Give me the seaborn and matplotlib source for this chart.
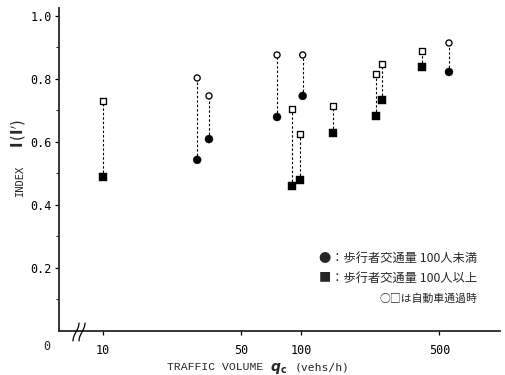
import numpy as np
import pandas as pd
import matplotlib
matplotlib.use("Agg")
import matplotlib.pyplot as plt
from matplotlib.lines import Line2D
from matplotlib.ticker import NullLocator, FixedLocator
import seaborn as sns

# ---------------- data ----------------
circle_x = [29.9, 34.3, 75.7, 102, 559]                 # pedestrians < 100
circle_open_y = [0.803, 0.746, 0.876, 0.876, 0.914]     # while a car passes
circle_filled_y = [0.543, 0.609, 0.679, 0.746, 0.822]

square_x = [10, 90, 99, 145, 239, 256, 408]             # pedestrians >= 100
square_open_y = [0.730, 0.705, 0.625, 0.714, 0.816, 0.848, 0.889]
square_filled_y = [0.489, 0.460, 0.479, 0.628, 0.683, 0.733, 0.838]

x_ticks = [10, 50, 100, 500]
x_tick_labels = ["10", "50", "100", "500"]
y_ticks = [0.2, 0.4, 0.6, 0.8, 1.0]
y_tick_labels = ["0.2", "0.4", "0.6", "0.8", "1.0"]
legend_lines = ["●：歩行者交通量 100人未満",
                "■：歩行者交通量 100人以上",
                "○□は自動車通過時"]

# ---------------- table ----------------
rows = []
for x, yo, yf in zip(circle_x, circle_open_y, circle_filled_y):
    rows.append((x, yo, "lt100", "open"))
    rows.append((x, yf, "lt100", "filled"))
for x, yo, yf in zip(square_x, square_open_y, square_filled_y):
    rows.append((x, yo, "ge100", "open"))
    rows.append((x, yf, "ge100", "filled"))
df = pd.DataFrame(rows, columns=["volume", "index", "group", "state"])

sns.set_style("ticks")
plt.rcParams["font.family"] = ["DejaVu Sans Mono", "Noto Sans CJK JP"]

W, H = 505, 375
fig = plt.figure(figsize=(W / 100, H / 100), dpi=100)
ax = fig.add_axes([59 / W, 44 / H, 441 / W, 323 / H])

# dashed connectors between open and filled markers
pairs = df.pivot_table(index=["volume", "group"], columns="state", values="index").reset_index()
ax.vlines(pairs["volume"], pairs["filled"], pairs["open"], colors="black",
          linestyles=(0, (2.2, 1.8)), linewidth=0.8, zorder=1)

markers = {"lt100": "o", "ge100": "s"}
sns.scatterplot(data=df[df.state == "filled"], x="volume", y="index",
                style="group", markers=markers, color="black", s=33,
                edgecolor="black", linewidth=0.3, legend=False, ax=ax, zorder=3)
sns.scatterplot(data=df[df.state == "open"], x="volume", y="index",
                style="group", markers=markers, facecolor="white", s=19,
                edgecolor="black", linewidth=0.95, legend=False, ax=ax, zorder=3)

ax.set_xscale("log")
ax.set_xlim(5.995, 1012)
ax.set_ylim(0, 1.025)
ax.xaxis.set_major_locator(FixedLocator(x_ticks))
ax.set_xticklabels(x_tick_labels)
ax.xaxis.set_minor_locator(NullLocator())
ax.yaxis.set_major_locator(FixedLocator(y_ticks))
ax.set_yticklabels(y_tick_labels)
ax.yaxis.set_minor_locator(FixedLocator([0.1, 0.3, 0.5, 0.7, 0.9]))

sns.despine(ax=ax)
for s in ("left", "bottom"):
    ax.spines[s].set_linewidth(1.3)
ax.tick_params(axis="both", which="major", direction="out", length=3, width=0.9,
               labelsize=8.5, colors="black")
ax.tick_params(axis="y", which="minor", direction="out", length=2, width=0.7)
ax.tick_params(axis="y", pad=2)
ax.tick_params(axis="x", pad=6)
ax.set_xlabel("")
ax.set_ylabel("")

# axis titles
fig.text(167 / W, 1 - 367 / H, "TRAFFIC VOLUME", fontsize=8.2, ha="left", va="center",
         family="Liberation Mono")
fig.text(270 / W, 1 - 369 / H, r"$\boldsymbol{q}_{\mathbf{c}}$", fontsize=10,
         ha="left", va="center")
fig.text(295 / W, 1 - 367 / H, "(vehs/h)", fontsize=8.2, ha="left", va="center",
         family="DejaVu Sans Mono")
fig.text(20 / W, 1 - 180 / H, "INDEX", fontsize=7.5, rotation=90, ha="center",
         va="center", family="DejaVu Sans Mono")
fig.text(19 / W, 1 - 134 / H, r"$\mathbf{I}\,(\mathbf{I}')$", fontsize=10.5,
         rotation=90, ha="center", va="center")
fig.text(47 / W, 1 - 346 / H, "0", fontsize=8.5, ha="center", va="center",
         family="DejaVu Sans Mono")

# legend notes
for txt, yy, fs in zip(legend_lines, [258, 278, 299], [8.8, 8.8, 7.8]):
    fig.text(477 / W, 1 - yy / H, txt, fontsize=fs, ha="right", va="center",
             family=["Noto Sans CJK JP", "DejaVu Sans"])

# axis break marks
yy = np.linspace(323, 341, 30)
for off in (76, 82):
    xx = off - 3 * np.sin(np.pi * (yy - 332) / 18)
    fig.add_artist(Line2D(xx / W, 1 - yy / H, color="black", linewidth=0.9,
                          transform=fig.transFigure))

fig.savefig("out.png", dpi=100)
